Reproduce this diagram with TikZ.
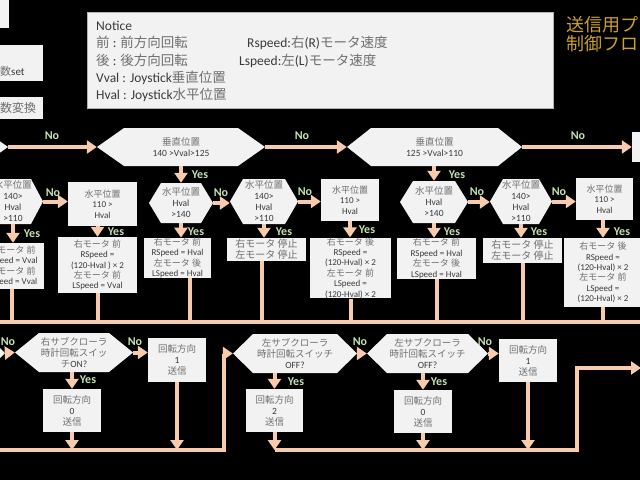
\documentclass[tikz,border=0pt]{standalone}
\usepackage{fontspec}
\setmainfont{Carlito}
\newfontfamily\jp{Noto Sans CJK JP}
\usetikzlibrary{arrows.meta}
\definecolor{boxfill}{HTML}{F2F2F2}
\definecolor{txt}{HTML}{3A3A3A}
\definecolor{jpgray}{HTML}{6F6F6F}
\definecolor{peach}{HTML}{F8CBAD}
\definecolor{yesno}{HTML}{C5E0B4}
\definecolor{gold}{HTML}{C9A227}
\newcommand\jt[1]{{\jp\color{jpgray}#1}}
\newcommand\hexnode[7]{%
  \fill[boxfill] (#2,{(#4+#5)/2}) -- (#2+#6,#4) -- (#3-#6,#4) -- (#3,{(#4+#5)/2})
    -- (#3-#6,#5) -- (#2+#6,#5) -- cycle;
  \node[box, fill=none, font=\fontsize{9.5}{11}\selectfont,
    minimum width={(#3)-(#2)}, minimum height={(#5)-(#4)}] (#1)
    at ({((#2)+(#3))/2},{((#4)+(#5))/2}) {#7};}
\newcommand\boxnode[7][]{%
  \node[box, #1, minimum width={(#4)-(#3)}, minimum height={(#6)-(#5)}] (#2)
    at ({((#3)+(#4))/2},{((#5)+(#6))/2}) {#7};}

\begin{document}
\begin{tikzpicture}[x=1pt, y=-1pt,
  box/.style={fill=boxfill, text=txt, align=center, inner sep=0pt,
    font=\fontsize{9}{10.4}\selectfont},
  flow/.style={draw=peach, line width=4pt},
  arr/.style={flow, -{Triangle[length=10pt, width=13pt]}},
  yn/.style={text=yesno, inner sep=0pt, font=\bfseries\fontsize{12}{12}\selectfont},
  note/.style={text=txt, anchor=base west, inner sep=0pt,
    font=\fontsize{13.5}{16}\selectfont}]
  \useasboundingbox (0,0) rectangle (640,480);
  \clip (0,0) rectangle (640,480);
  \fill[black] (0,0) rectangle (640,480);

  \boxnode{tl1}{-30}{9}{-10}{28}{}
  \boxnode{tl2}{-40}{43}{45}{81}{}
  \boxnode{tl3}{-40}{43}{97}{119}{}
  \node[anchor=base west, inner sep=0pt, text=txt, font=\fontsize{11}{12}\selectfont]
    (tl2t) at (0,75) {\jt{数}set};
  \node[anchor=base west, inner sep=0pt, font=\fontsize{12}{13}\selectfont]
    (tl3t) at (0,112) {\jt{数変換}};

  \node[draw=gray!60, line width=0.8pt, fill=boxfill, minimum width=466,
    minimum height=96, inner sep=0pt] (notice) at (320,60) {};
  \node[note] (n0) at (96,30) {Notice};
  \node[note] (n1) at (96,47) {\jt{前} : \jt{前方向回転}};
  \node[note] (n2) at (96,65) {\jt{後} : \jt{後方向回転}};
  \node[note] (n3) at (96,82) {Vval : Joystick\jt{垂直位置}};
  \node[note] (n4) at (96,99) {Hval : Joystick\jt{水平位置}};
  \node[note] (n5) at (247,47) {Rspeed:\jt{右}(R)\jt{モータ速度}};
  \node[note] (n6) at (239,65) {Lspeed:\jt{左}(L)\jt{モータ速度}};

  \node[anchor=base west, inner sep=0pt, text=gold,
    font=\fontsize{18}{20}\selectfont\jp] (t1) at (566,31) {送信用プ};
  \node[anchor=base west, inner sep=0pt, text=gold,
    font=\fontsize{18}{20}\selectfont\jp] (t2) at (566,50) {制御フロ};

  \hexnode{v0}{-140}{8}{128}{166}{27}{}
  \hexnode{v1}{97}{265}{128}{166}{27}{\jt{垂直位置}\\140 >Vval>125}
  \hexnode{v2}{347}{522}{128}{166}{24}{\jt{垂直位置}\\125 >Vval>110}
  \boxnode{v3}{632}{700}{132}{162}{}
  \draw[arr] (v0.east) -- (v1.west);
  \draw[arr] (v1.east) -- (v2.west);
  \draw[arr] (v2.east) -- (v3.west);
  \node[yn] (no1) at (52,136) {No};
  \node[yn] (no2) at (302,136) {No};
  \node[yn] (no3) at (578,136) {No};

  \hexnode{hA}{-17}{43}{179}{224}{12}{\jt{水平位置}\\140>\\Hval\\>110}
  \boxnode{bB}{68}{137}{182}{226}{\jt{水平位置}\\110 >\\Hval}
  \hexnode{hC}{149}{213}{183}{223}{12}{\jt{水平位置}\\Hval\\>140}
  \hexnode{hD}{230}{298}{179}{224}{13}{\jt{水平位置}\\140>\\Hval\\>110}
  \boxnode{bE}{321}{379}{179}{221}{\jt{水平位置}\\110 >\\Hval}
  \hexnode{hF}{400}{468}{181}{223}{13}{\jt{水平位置}\\Hval\\>140}
  \hexnode{hG}{490}{552}{179}{224}{13}{\jt{水平位置}\\140>\\Hval\\>110}
  \boxnode{bH}{576}{633}{178}{220}{\jt{水平位置}\\110 >\\Hval}
  \draw[arr] (v1.south) -- (hC.north);
  \draw[arr] (hF.north |- v2.south) -- (hF.north);
  \draw[arr] (hA.east) -- (hA.east -| bB.west);
  \draw[arr] (hC.east) -- (hC.east -| hD.west);
  \draw[arr] (hD.east) -- (hD.east -| bE.west);
  \draw[arr] (hF.east) -- (hF.east -| hG.west);
  \draw[arr] (hG.east) -- (hG.east -| bH.west);
  \node[yn] (yes1) at (200,175) {Yes};
  \node[yn] (yes2) at (457,175) {Yes};
  \node[yn] (no4) at (53,193) {No};
  \node[yn] (no5) at (221,193) {No};
  \node[yn] (no6) at (305,192) {No};
  \node[yn] (no7) at (477,192) {No};
  \node[yn] (no8) at (559,192) {No};

  \boxnode{rA}{-20}{44}{243}{289}{\jt{右モータ 前}\\RSpeed = Vval\\\jt{左モータ 前}\\LSpeed = Vval}
  \boxnode{rB}{58}{137}{237}{293}{\jt{右モータ 前}\\RSpeed =\\(120-Hval ) × 2\\\jt{左モータ 前}\\LSpeed = Vval}
  \boxnode{rC}{144}{211}{238}{278}{\jt{右モータ 前}\\RSpeed = Hval\\\jt{左モータ 後}\\LSpeed = Hval}
  \boxnode[font=\fontsize{10}{11}\selectfont]{rD}{227}{306}{238}{261}{\jt{右モータ 停止}\\\jt{左モータ 停止}}
  \boxnode{rE}{310}{391}{238}{298}{\jt{右モータ 後}\\RSpeed =\\(120-Hval) × 2\\\jt{左モータ 前}\\LSpeed =\\(120-Hval) × 2}
  \boxnode{rF}{397}{476}{238}{279}{\jt{右モータ 前}\\RSpeed = Hval\\\jt{左モータ 後}\\LSpeed = Hval}
  \boxnode[font=\fontsize{10}{11}\selectfont]{rG}{483}{562}{238}{263}{\jt{右モータ 停止}\\\jt{左モータ 停止}}
  \boxnode{rH}{564}{642}{238}{307}{\jt{右モータ 後}\\RSpeed =\\(120-Hval) × 2\\\jt{左モータ 前}\\LSpeed =\\(120-Hval) × 2}
  \draw[arr] (hA.south) -- (hA.south |- rA.north);
  \draw[arr] (rB.north |- bB.south) -- (rB.north);
  \draw[arr] (hC.south) -- (hC.south |- rC.north);
  \draw[arr] (hD.south) -- (hD.south |- rD.north);
  \draw[arr] (bE.south) -- (bE.south |- rE.north);
  \draw[arr] (hF.south) -- (hF.south |- rF.north);
  \draw[arr] (hG.south) -- (hG.south |- rG.north);
  \draw[arr] (rH.north |- bH.south) -- (rH.north);
  \node[yn] (yes3) at (32,234) {Yes};
  \node[yn] (yes4) at (116,232) {Yes};
  \node[yn] (yes5) at (196,232) {Yes};
  \node[yn] (yes6) at (284,232) {Yes};
  \node[yn] (yes7) at (367,230) {Yes};
  \node[yn] (yes8) at (452,232) {Yes};
  \node[yn] (yes9) at (539,232) {Yes};
  \node[yn] (yes10) at (622,232) {Yes};

  \coordinate (mL) at (-5,322);
  \coordinate (mR) at (645,322);
  \draw[flow] (mL) -- (mR);
  \draw[flow] (rA.south) -- (rA.south |- mL);
  \draw[flow] (rB.south) -- (rB.south |- mL);
  \draw[flow] ([xshift=12.5pt]rC.south) |- (mL);
  \draw[flow] ([xshift=-4.5pt]rD.south) |- (mL);
  \draw[flow] (rE.south) -- (rE.south |- mL);
  \draw[flow] (rF.south) -- (rF.south |- mL);
  \draw[flow] (rG.south) -- (rG.south |- mL);
  \draw[flow] (rH.south) -- (rH.south |- mL);

  \hexnode{s0}{-100}{5}{334}{372}{19}{}
  \hexnode{s1}{15}{133}{333}{372}{24}{\jt{右サブクローラ}\\\jt{時計回転スイッ}\\\jt{チ}ON?}
  \boxnode[font=\fontsize{9.5}{11}\selectfont]{p1}{148}{206}{338}{382}{\jt{回転方向}\\1\\\jt{送信}}
  \boxnode[font=\fontsize{9.5}{11}\selectfont]{p0}{43}{101}{389}{432}{\jt{回転方向}\\0\\\jt{送信}}
  \hexnode{s2}{233}{357}{334}{373}{20}{\jt{左サブクローラ}\\\jt{時計回転スイッチ}\\OFF?}
  \hexnode{s3}{367}{488}{334}{373}{20}{\jt{左サブクローラ}\\\jt{時計回転スイッチ}\\OFF?}
  \boxnode[font=\fontsize{9.5}{11}\selectfont]{p3}{499}{557}{339}{382}{\jt{回転方向}\\1\\\jt{送信}}
  \boxnode[font=\fontsize{9.5}{11}\selectfont]{p2}{246}{303}{389}{432}{\jt{回転方向}\\2\\\jt{送信}}
  \boxnode[font=\fontsize{9.5}{11}\selectfont]{p4}{394}{452}{390}{433}{\jt{回転方向}\\0\\\jt{送信}}

  \coordinate (bL) at (-5,450);
  \coordinate (bK) at (224,450);
  \coordinate (bN) at (577,450);
  \coordinate (out1) at (641,368);
  \draw[arr] (s0.east) -- (s1.west);
  \draw[arr] (s1.east) -- (s1.east -| p1.west);
  \draw[arr] (p0.north |- s1.south) -- (p0.north);
  \draw[arr] (p0.south) -- (p0.south |- bL);
  \draw[arr] (p1.south) -- (p1.south |- bL);
  \draw[arr] (bL) -- (bK) |- (s2.west);
  \draw[arr] (s2.east) -- (s3.west);
  \draw[arr] (s3.east) -- (s3.east -| p3.west);
  \draw[arr] (p2.north |- s2.south) -- (p2.north);
  \draw[arr] (p4.north |- s3.south) -- (p4.north);
  \draw[arr] (p2.south) -- (p2.south |- bL);
  \draw[arr] (p4.south) -- (p4.south |- bL);
  \draw[arr] (p3.south) -- (p3.south |- bL);
  \draw[arr] (p2.south |- bL) -- (bN) |- (out1);
  \node[yn] (no9) at (8,342) {No};
  \node[yn] (no10) at (135,342) {No};
  \node[yn] (no11) at (360,342) {No};
  \node[yn] (no12) at (485,342) {No};
  \node[yn] (yes11) at (88,380) {Yes};
  \node[yn] (yes12) at (296,382) {Yes};
  \node[yn] (yes13) at (439,382) {Yes};
\end{tikzpicture}
\end{document}
